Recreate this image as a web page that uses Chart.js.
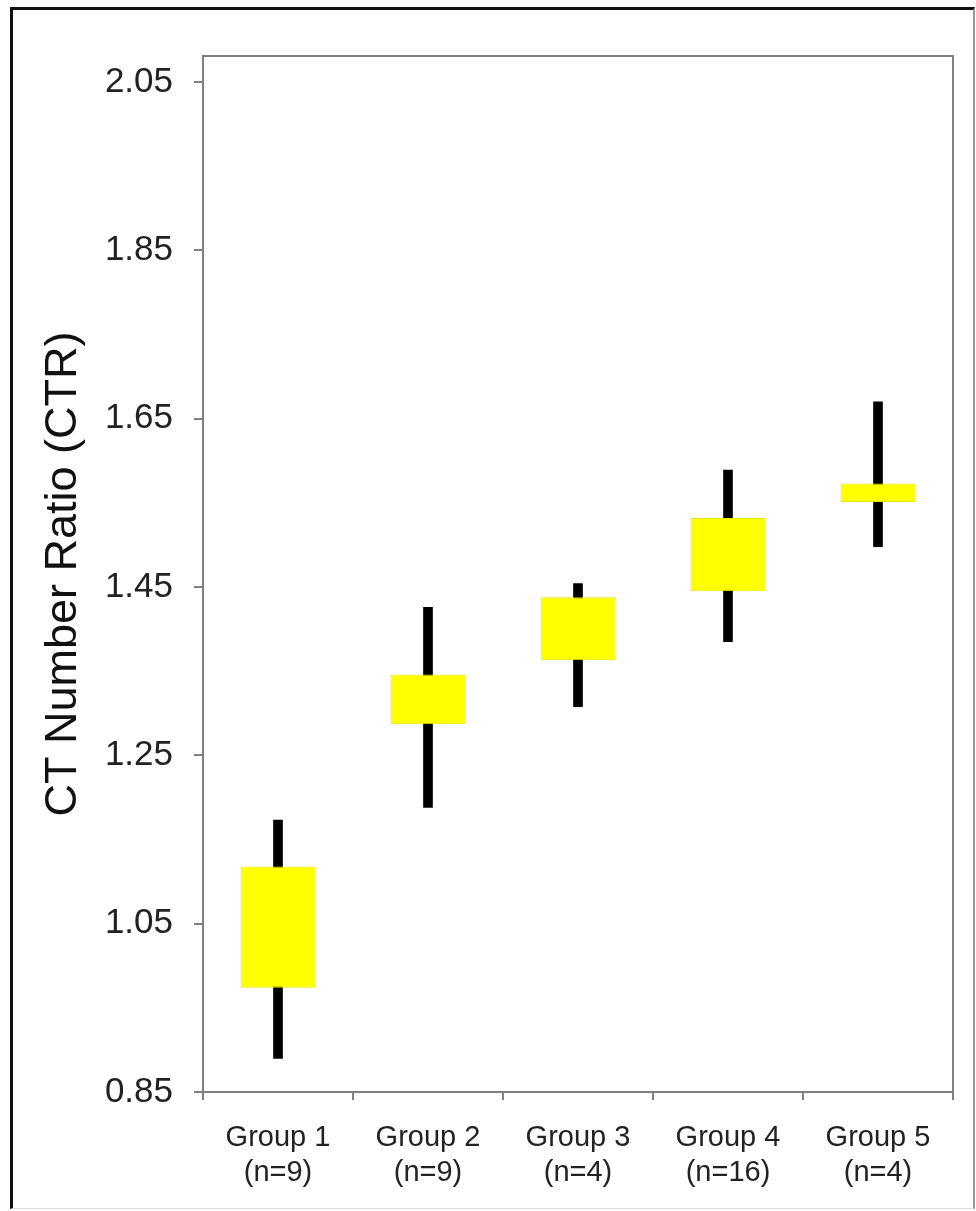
<!DOCTYPE html>
<html>
<head>
<meta charset="utf-8">
<script src="https://cdn.jsdelivr.net/npm/chart.js@4.4.1/dist/chart.umd.min.js"></script>
<style>
  html, body { margin: 0; padding: 0; background: #fff; }
  #wrap { position: relative; width: 976px; height: 1211px; overflow: hidden; }
  #frame {
    position: absolute; left: 10px; top: 7px; width: 960px; height: 1198px;
    border-left: 3px solid #111; border-top: 3px solid #111;
    border-right: 2px solid #999; border-bottom: 1px solid #ddd;
  }
  #chart { position: absolute; left: 0; top: 0; }
</style>
</head>
<body>
<div id="wrap">
  <div id="frame"></div>
  <canvas id="chart" width="976" height="1211"></canvas>
</div>
<script>
const groups = ["Group 1", "Group 2", "Group 3", "Group 4", "Group 5"];
const counts = ["(n=9)", "(n=9)", "(n=4)", "(n=16)", "(n=4)"];

// box (lower / upper edge)
const boxLow = [0.974, 1.287, 1.363, 1.445, 1.551];
const boxHigh = [1.118, 1.346, 1.438, 1.532, 1.573];

// whiskers
const whiskerLow = [0.89, 1.188, 1.308, 1.385, 1.498];
const whiskerHigh = [1.173, 1.426, 1.454, 1.589, 1.67];

const yTicks = [0.85, 1.05, 1.25, 1.45, 1.65, 1.85, 2.05];

const labels = groups.map((g, i) => [g, counts[i]]);
const boxes = boxLow.map((v, i) => [v, boxHigh[i]]);
const whiskers = whiskerLow.map((v, i) => [v, whiskerHigh[i]]);

const fontFamily = "'Liberation Sans', Arial, sans-serif";

// grey box around the plot area (top and right sides)
const plotFrame = {
  id: "plotFrame",
  afterDraw(chart) {
    const { ctx, chartArea } = chart;
    ctx.save();
    ctx.strokeStyle = "#808080";
    ctx.lineWidth = 2;
    ctx.beginPath();
    ctx.moveTo(chartArea.left, chartArea.top);
    ctx.lineTo(chartArea.right, chartArea.top);
    ctx.lineTo(chartArea.right, chartArea.bottom);
    ctx.stroke();
    ctx.restore();
  },
};

new Chart(document.getElementById("chart"), {
  type: "bar",
  data: {
    labels: labels,
    datasets: [
      {
        label: "Box",
        data: boxes,
        backgroundColor: "#ffff00",
        borderColor: "#e6e600",
        borderWidth: 1,
        borderSkipped: false,
        grouped: false,
        barPercentage: 0.5,
        categoryPercentage: 1,
        order: 0,
      },
      {
        label: "Range",
        data: whiskers,
        backgroundColor: "#000000",
        borderWidth: 0,
        grouped: false,
        barThickness: 9,
        order: 1,
      },
    ],
  },
  options: {
    responsive: false,
    devicePixelRatio: 1,
    animation: false,
    layout: { padding: { top: 56, right: 23, bottom: 0, left: 0 } },
    plugins: {
      legend: { display: false },
      tooltip: { enabled: false },
    },
    scales: {
      x: {
        type: "category",
        offset: true,
        afterFit: (scale) => { scale.height = 119; },
        grid: {
          offset: true,
          drawOnChartArea: false,
          drawTicks: true,
          tickLength: 8,
          color: "#808080",
          lineWidth: 2,
        },
        border: { display: true, color: "#808080", width: 2 },
        ticks: {
          color: "#222",
          padding: 21,
          maxRotation: 0,
          autoSkip: false,
          font: { family: fontFamily, size: 29, lineHeight: 1.2 },
        },
      },
      y: {
        min: 0.85,
        max: 2.081,
        afterFit: (scale) => { scale.width = 203; },
        afterBuildTicks: (scale) => {
          scale.ticks = yTicks.map((v) => ({ value: v }));
        },
        grid: {
          drawOnChartArea: false,
          drawTicks: true,
          tickLength: 9,
          color: "#808080",
          lineWidth: 2,
        },
        border: { display: true, color: "#808080", width: 2 },
        ticks: {
          color: "#222",
          padding: 21,
          font: { family: fontFamily, size: 35 },
          callback: (v) => Number(v).toFixed(2),
        },
        title: {
          display: true,
          text: "CT Number Ratio (CTR)",
          color: "#111",
          padding: { top: 37, bottom: 0 },
          font: { family: fontFamily, size: 45, lineHeight: 1.2 },
        },
      },
    },
  },
  plugins: [plotFrame],
});
</script>
</body>
</html>
